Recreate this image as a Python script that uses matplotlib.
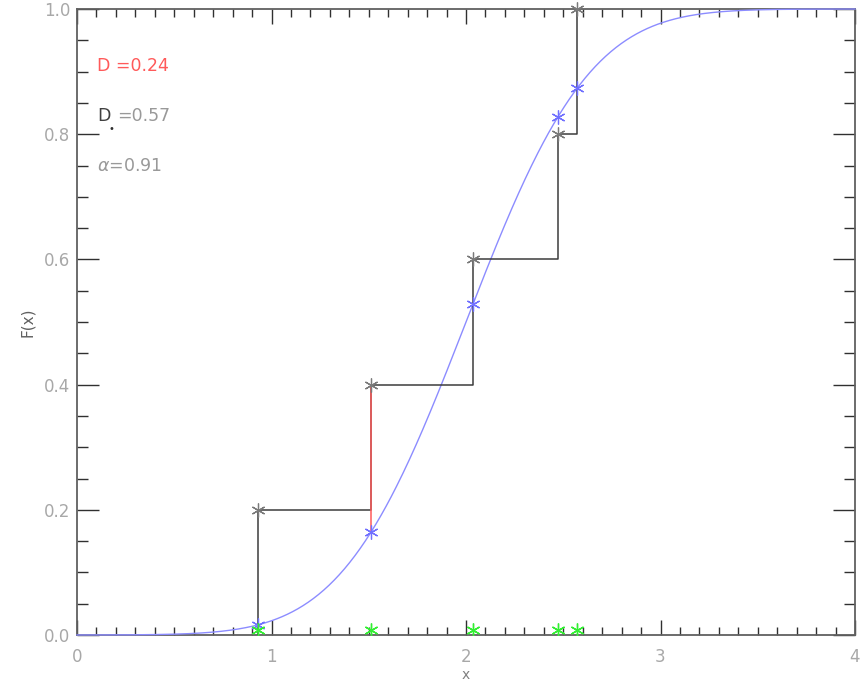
import numpy as np
import matplotlib
matplotlib.use("Agg")
import matplotlib.pyplot as plt
from math import erf, sqrt

# Sample values and their empirical CDF levels
sample_x = [0.931, 1.512, 2.036, 2.473, 2.571]
ecdf_y = [0.2, 0.4, 0.6, 0.8, 1.0]

# Reference normal distribution
mu = 2.0
sigma = 0.5

# Statistics shown in the corner
d_stat = 0.24
d_star = 0.57
alpha_val = 0.91

x_ticks = [0, 1, 2, 3, 4]
y_ticks = [0.0, 0.2, 0.4, 0.6, 0.8, 1.0]


def normal_cdf(v):
    return 0.5 * (1.0 + erf((v - mu) / (sigma * sqrt(2.0))))


fig = plt.figure(figsize=(8.67, 6.84), dpi=100)
ax = fig.add_axes([77 / 867, 1 - 635 / 684, 778 / 867, 626 / 684])

# Model CDF curve
xc = np.linspace(0, 4, 600)
yc = [normal_cdf(v) for v in xc]
ax.plot(xc, yc, color="#8c8cff", lw=1.0, zorder=3, clip_on=False)

# Empirical CDF as a staircase
step_x = [sample_x[0]] + list(sample_x)
step_y = [0.0] + list(ecdf_y)
ax.step(step_x, step_y, where="post", color="#3c3c3c", lw=1.1, zorder=3)

# Largest deviation between the two CDFs
model_at_samples = [normal_cdf(v) for v in sample_x]
dev = [e - m for e, m in zip(ecdf_y, model_at_samples)]
k = int(np.argmax(dev))
ax.plot([sample_x[k], sample_x[k]], [model_at_samples[k], ecdf_y[k]],
        color="#ff5a5a", lw=1.1, zorder=4)

star = (6, 2, 0)
ax.plot(sample_x, ecdf_y, ls="none", marker=star, ms=10, mew=0.9,
        color="#7a7a7a", zorder=5, clip_on=False)
ax.plot(sample_x, model_at_samples, ls="none", marker=star, ms=10, mew=0.9,
        color="#7070ff", zorder=5)
ax.plot(sample_x, [0.008] * len(sample_x), ls="none", marker=star, ms=10,
        mew=1.0, color="#33ee33", zorder=5)

ax.set_xlim(0, 4)
ax.set_ylim(0, 1)
ax.set_xticks(x_ticks)
ax.set_xticklabels([str(t) for t in x_ticks])
ax.set_yticks(y_ticks)
ax.set_yticklabels([f"{t:.1f}" for t in y_ticks])
ax.set_xticks(np.arange(0, 4.001, 0.1), minor=True)
ax.set_yticks(np.arange(0, 1.001, 0.05), minor=True)

spine_col = "#606060"
for s in ax.spines.values():
    s.set_color(spine_col)
    s.set_linewidth(1.3)
ax.tick_params(which="both", direction="in", top=True, right=True,
               color="#303030", width=1.0, labelcolor="#a8a8a8", labelsize=12)
ax.tick_params(axis="x", which="major", length=11, pad=9)
ax.tick_params(axis="x", which="minor", length=6)
ax.tick_params(axis="y", which="major", length=16, pad=5)
ax.tick_params(axis="y", which="minor", length=8)

ax.set_xlabel("x", color="#808080", fontsize=10, labelpad=2)
ax.set_ylabel("F(x)", color="#606060", fontsize=11, labelpad=6)

ax.text(0.103, 0.909, f"D =%.2f" % d_stat, color="#ff5a5a", fontsize=12.5,
        va="center", ha="left")
ax.text(0.103, 0.829, "D", color="#404040", fontsize=12.5, va="center", ha="left")
ax.text(0.16, 0.809, "\u2022", color="#303030", fontsize=7, va="center", ha="left")
ax.text(0.205, 0.829, "=%.2f" % d_star, color="#999999", fontsize=12.5,
        va="center", ha="left")
ax.text(0.103, 0.749, r"$\alpha$=%.2f" % alpha_val, color="#999999",
        fontsize=12.5, va="center", ha="left")

fig.savefig("out.png", dpi=100)
